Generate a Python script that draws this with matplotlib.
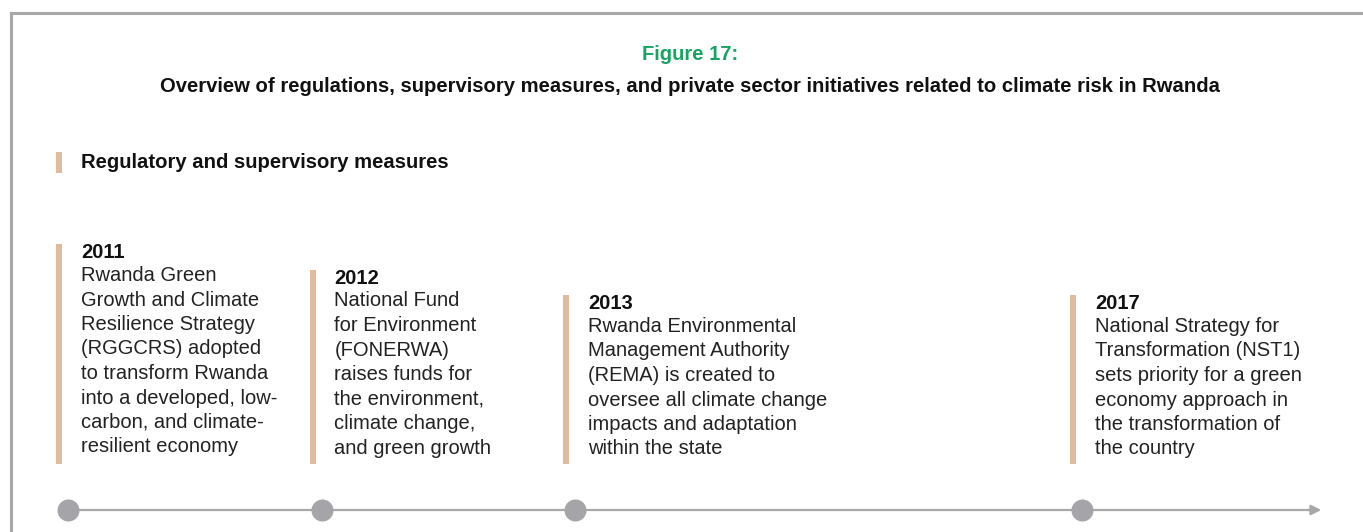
import matplotlib.pyplot as plt
from matplotlib.patches import Rectangle

plt.rcParams['font.family'] = ['Liberation Sans', 'DejaVu Sans']

years = ["2011", "2012", "2013", "2017"]
slots = [0, 1, 2, 4]          # position along the timeline
levels = [0, 1, 2, 2]         # how far down the text block starts
descriptions = [
    "Rwanda Green\nGrowth and Climate\nResilience Strategy\n(RGGCRS) adopted\nto transform Rwanda\ninto a developed, low-\ncarbon, and climate-\nresilient economy",
    "National Fund\nfor Environment\n(FONERWA)\nraises funds for\nthe environment,\nclimate change,\nand green growth",
    "Rwanda Environmental\nManagement Authority\n(REMA) is created to\noversee all climate change\nimpacts and adaptation\nwithin the state",
    "National Strategy for\nTransformation (NST1)\nsets priority for a green\neconomy approach in\nthe transformation of\nthe country",
]

fig_title = "Figure 17:"
subtitle = ("Overview of regulations, supervisory measures, and private sector "
            "initiatives related to climate risk in Rwanda")
section = "Regulatory and supervisory measures"

tan = "#e0bb9e"
grey = "#a5a5a9"

fig = plt.figure(figsize=(13.63, 5.32), dpi=100)
ax = fig.add_axes([0, 0, 1, 1])
ax.set_xlim(0, 1363)
ax.set_ylim(532, 0)
ax.axis("off")

# frame (top + left edges)
ax.plot([11, 1363], [13, 13], color="#a8a8a8", lw=2.2, solid_capstyle="projecting")
ax.plot([11, 11], [13, 532], color="#a8a8a8", lw=2.2, solid_capstyle="projecting")

ax.text(690, 55, fig_title, color="#17a463", fontsize=14.5, fontweight="bold",
        ha="center", va="center")
ax.text(690, 87, subtitle, color="#111111", fontsize=14.6, fontweight="bold",
        ha="center", va="center")

ax.add_patch(Rectangle((56, 152), 6, 21, color=tan, lw=0))
ax.text(81, 163, section, color="#111111", fontsize=14.6, fontweight="bold",
        ha="left", va="center")

step = 253.5
x0 = 68
line_y = 510
bottom = 464
pitch = 24.5

ax.plot([x0, 1315], [line_y, line_y], color="#a8a8ab", lw=1.6, zorder=1)
ax.annotate("", xy=(1324, line_y), xytext=(1305, line_y),
            arrowprops=dict(arrowstyle="-|>", color="#a8a8ab", lw=1.6,
                            mutation_scale=15))

for yr, s, lv, desc in zip(years, slots, levels, descriptions):
    cx = x0 + s * step
    top = 244 + lv * 25.5
    ax.add_patch(Rectangle((cx - 12, top), 6, bottom - top, color=tan, lw=0))
    ax.text(cx + 13, top + 14, yr, color="#111111", fontsize=14.5,
            fontweight="bold", ha="left", va="baseline")
    for i, line in enumerate(desc.split("\n")):
        ax.text(cx + 13, top + 37 + i * pitch, line, color="#222222",
                fontsize=14.5, ha="left", va="baseline")
    ax.scatter([cx], [line_y], s=251, color=grey, zorder=3, linewidths=0)

fig.savefig("out.png", dpi=100)
